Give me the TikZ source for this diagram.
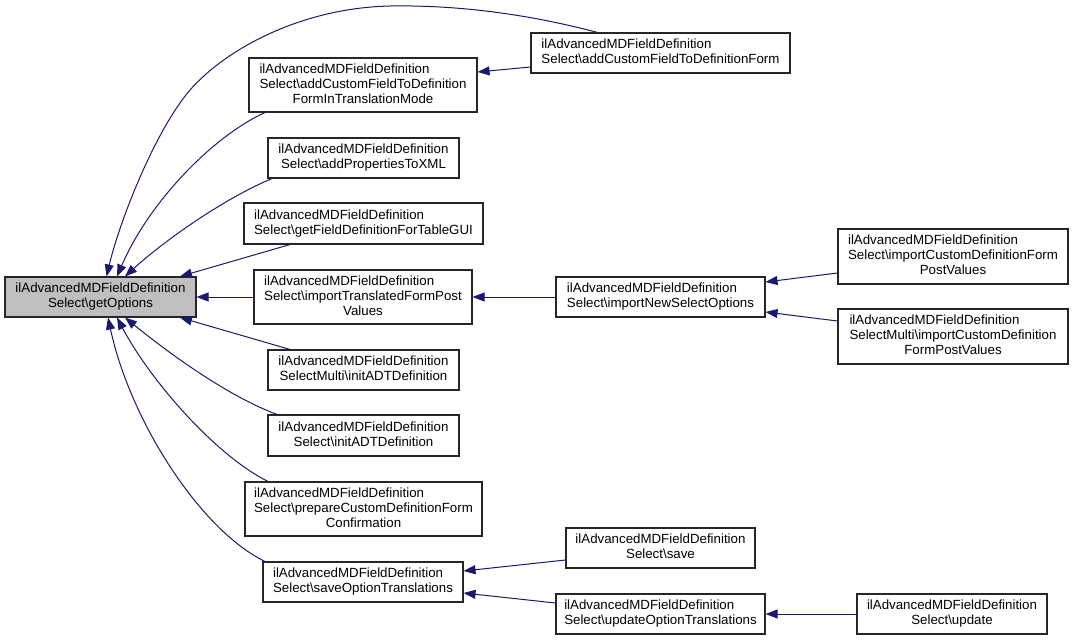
\documentclass[tikz,border=0pt]{standalone}
\usepackage{fontspec}
\setmainfont{Liberation Sans}
\usetikzlibrary{arrows.meta}
\usetikzlibrary{calc}

\definecolor{edgeblue}{HTML}{191970}
\definecolor{focusgrey}{HTML}{BFBFBF}

% two and three line labels: upper lines left, last line centred
\newcommand{\ltwo}[2]{\begin{tabular}{@{}l@{}}#1\\\multicolumn{1}{@{}c@{}}{#2}\end{tabular}}
\newcommand{\lthree}[3]{\begin{tabular}{@{}l@{}}#1\\#2\\\multicolumn{1}{@{}c@{}}{#3}\end{tabular}}
\newcommand{\cls}{ilAdvancedMDFieldDefinition}
\newcommand{\bs}{\textbackslash}

\begin{document}
\begin{tikzpicture}[x=1pt, y=-1pt,
	fn/.style={draw=black!85, line width=1.1pt, fill=white, inner sep=0pt, font=\fontsize{13.3}{15}\selectfont},
	call/.style={draw=edgeblue, line width=1pt, -{Triangle[length=12pt,width=9pt]}}]
	\useasboundingbox (0,0) rectangle (1073,640);
	
	% focus node
	\node[fn, fill=focusgrey, minimum width=191pt, minimum height=40pt] (opt) at (100.5,297) {\ltwo{\cls}{Select\bs getOptions}};
	
	% callers
	\node[fn, minimum width=228pt, minimum height=54pt] (tmode) at (363,85) {\lthree{\cls}{Select\bs addCustomFieldToDefinition}{FormInTranslationMode}};
	\node[fn, minimum width=259pt, minimum height=40pt] (form) at (660.5,53) {\ltwo{\cls}{Select\bs addCustomFieldToDefinitionForm}};
	\node[fn, minimum width=191pt, minimum height=40pt] (xml) at (363.5,158) {\ltwo{\cls}{Select\bs addPropertiesToXML}};
	\node[fn, minimum width=239pt, minimum height=41pt] (gui) at (363.5,223.5) {\ltwo{\cls}{Select\bs getFieldDefinitionForTableGUI}};
	\node[fn, minimum width=218pt, minimum height=54pt] (trans) at (363,297) {\lthree{\cls}{Select\bs importTranslatedFormPost}{Values}};
	\node[fn, minimum width=209pt, minimum height=40pt] (newopt) at (660.5,297) {\ltwo{\cls}{Select\bs importNewSelectOptions}};
	\node[fn, minimum width=230pt, minimum height=55pt] (cform) at (953,256.5) {\lthree{\cls}{Select\bs importCustomDefinitionForm}{PostValues}};
	\node[fn, minimum width=230pt, minimum height=55pt] (mform) at (953,336.5) {\lthree{\cls}{SelectMulti\bs importCustomDefinition}{FormPostValues}};
	\node[fn, minimum width=191pt, minimum height=40pt] (minit) at (363.5,370) {\ltwo{\cls}{SelectMulti\bs initADTDefinition}};
	\node[fn, minimum width=191pt, minimum height=41pt] (sinit) at (363.5,435.5) {\ltwo{\cls}{Select\bs initADTDefinition}};
	\node[fn, minimum width=237pt, minimum height=54pt] (prep) at (363.5,509) {\lthree{\cls}{Select\bs prepareCustomDefinitionForm}{Confirmation}};
	\node[fn, minimum width=200pt, minimum height=40pt] (sot) at (363,582) {\ltwo{\cls}{Select\bs saveOptionTranslations}};
	\node[fn, minimum width=189pt, minimum height=40pt] (save) at (660.5,548) {\ltwo{\cls}{Select\bs save}};
	\node[fn, minimum width=209pt, minimum height=40pt] (uot) at (660.5,614) {\ltwo{\cls}{Select\bs updateOptionTranslations}};
	\node[fn, minimum width=190pt, minimum height=40pt] (upd) at (952,614) {\ltwo{\cls}{Select\bs update}};
	
	% edges into getOptions
	\draw[call] ([xshift=-63pt]form.north) .. controls (520,12) and (450,5) .. (390,6) .. controls (300,8) and (225,50) .. (190,90) .. controls (155,131) and (120,220) .. ([xshift=6pt]opt.north);
	\draw[call] ([xshift=-98pt]tmode.south) .. controls (215,135) and (150,200) .. ([xshift=16.5pt]opt.north);
	\draw[call] ([xshift=-91.5pt]xml.south) .. controls (225,198) and (165,240) .. ([xshift=24.5pt]opt.north);
	\draw[call] ([xshift=-73.5pt]gui.south) -- ([xshift=79.5pt]opt.north);
	\draw[call] (trans.west) -- (trans.west -| opt.east);
	\draw[call] ([xshift=-73.5pt]minit.north) -- ([xshift=79.5pt]opt.south);
	\draw[call] ([xshift=-86.5pt]sinit.north) .. controls (225,395) and (165,350) .. ([xshift=24.5pt]opt.south);
	\draw[call] ([xshift=-95.5pt]prep.north) .. controls (215,455) and (150,380) .. ([xshift=16.5pt]opt.south);
	\draw[call] ([xshift=-98pt]sot.north) .. controls (200,530) and (130,420) .. ([xshift=7.5pt]opt.south);
	
	% further callers
	\draw[call] ([yshift=-14pt]form.west) -- ([yshift=13pt]tmode.east);
	\draw[call] (newopt.west) -- (newopt.west -| trans.east);
	\draw[call] ([yshift=-16.5pt]cform.west) -- ([yshift=15pt]newopt.east);
	\draw[call] ([yshift=15.5pt]mform.west) -- ([yshift=-15pt]newopt.east);
	\draw[call] ([yshift=-12pt]save.west) -- ([yshift=11pt]sot.east);
	\draw[call] ([yshift=11pt]uot.west) -- ([yshift=-11pt]sot.east);
	\draw[call] (upd.west) -- (upd.west -| uot.east);
\end{tikzpicture}
\end{document}
